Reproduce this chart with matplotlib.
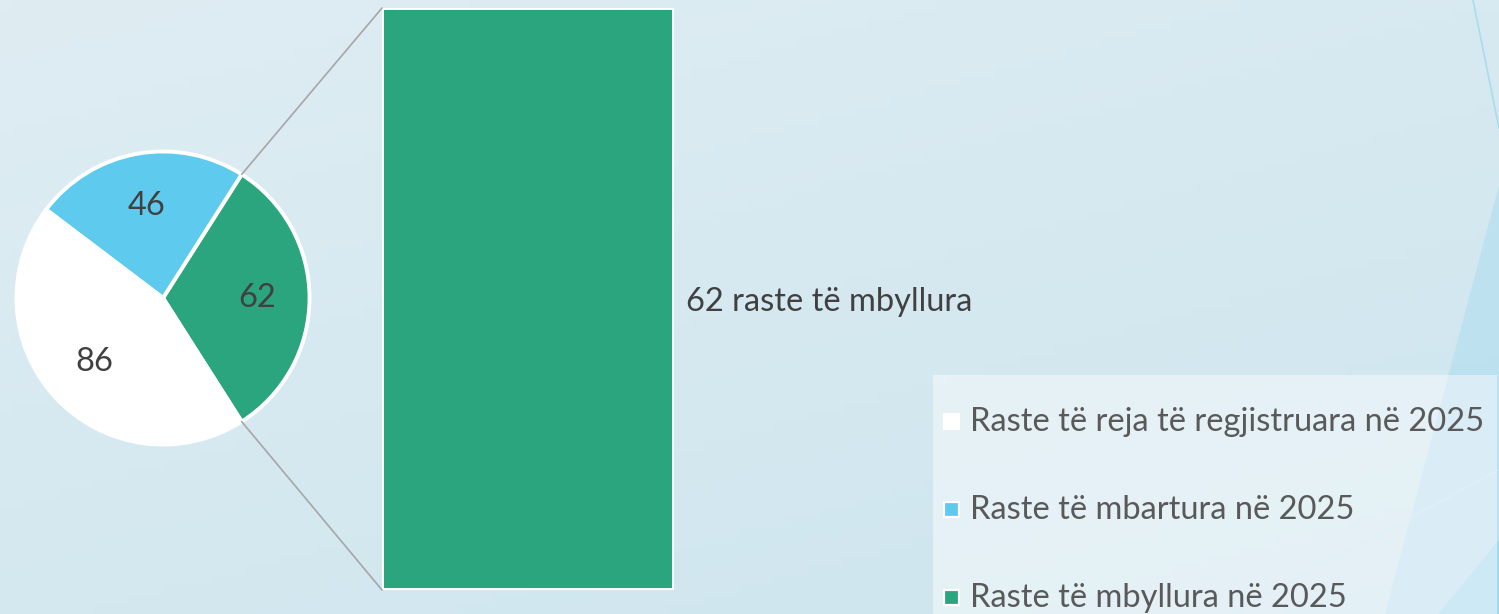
import matplotlib
matplotlib.use("Agg")
import matplotlib.pyplot as plt
import numpy as np
from matplotlib.patches import ConnectionPatch, Polygon, Rectangle

# ── Data ────────────────────────────────────────────────────────────────
labels = [
    "Raste të reja të regjistruara në 2025",
    "Raste të mbartura në 2025",
    "Raste të mbyllura në 2025",
]
values = [86, 46, 62]
colors = ["#FFFFFF", "#5ECBEE", "#2AA57D"]
bar_label = "raste të mbyllura"

FONT = "Lato"
FS = 23.5
TXT = "#404040"
LEG_TXT = "#595959"

W, H = 1499, 614
fig = plt.figure(figsize=(W / 100, H / 100), dpi=100)

# ── Background (pixel coordinates, y downwards) ─────────────────────────
bg = fig.add_axes([0, 0, 1, 1])
bg.set_xlim(0, W)
bg.set_ylim(H, 0)
bg.axis("off")
yy, xx = np.mgrid[0:1:64j, 0:1:128j]
t = 0.6 * yy + 0.4 * xx
c0 = np.array([223, 237, 243]) / 255
c1 = np.array([205, 229, 238]) / 255
grad = c0[None, None, :] * (1 - t[..., None]) + c1[None, None, :] * t[..., None]
bg.imshow(grad, extent=[0, W, H, 0], aspect="auto", zorder=0)

# decorative shapes on the right
bg.add_patch(Polygon([[1499, 185], [1499, 614], [1385, 614]], closed=True,
                     facecolor="#b3def0", alpha=0.65, edgecolor="none", zorder=1))
bg.add_patch(Polygon([[1499, 540], [1499, 614], [1438, 614]], closed=True,
                     facecolor="#8fd2ec", alpha=0.55, edgecolor="none", zorder=1))
bg.plot([1473, 1499], [0, 128], color="#a9dcef", lw=1.2, zorder=1)
bg.plot([1230, 1499], [614, 470], color="#c5e6f1", lw=1.0, zorder=1)

# ── Pie ─────────────────────────────────────────────────────────────────
total = sum(values)
order = [2, 1, 0]  # closed, carried, new — counter-clockwise from the right
pie_vals = [values[i] for i in order]
pie_cols = [colors[i] for i in order]
start = -180 * values[2] / total

pie_ax = fig.add_axes([15 / W, 1 - 446 / H, 296 / W, 296 / H])
wedges, _, autotexts = pie_ax.pie(
    pie_vals, colors=pie_cols, startangle=start, counterclock=True,
    autopct=lambda p: f"{round(p * total / 100)}", pctdistance=0.64,
    wedgeprops=dict(edgecolor="white", linewidth=2.8),
    textprops=dict(fontsize=FS, color=TXT, family=FONT),
)
pie_ax.set_xlim(-1.01, 1.01)
pie_ax.set_ylim(-1.01, 1.01)
pie_ax.set_aspect("equal")

# ── Bar ─────────────────────────────────────────────────────────────────
bar_ax = fig.add_axes([382 / W, 1 - 590 / H, 292 / W, 582 / H])
bar_ax.bar([0], [values[2]], width=1.0, color=colors[2],
           edgecolor="white", linewidth=2.8)
bar_ax.set_xlim(-0.5, 0.5)
bar_ax.set_ylim(0, values[2])
bar_ax.axis("off")
bar_ax.text(0.54, values[2] / 2 - 0.3, f"{values[2]} {bar_label}", ha="left",
            va="center", fontsize=FS, color=TXT, family=FONT, clip_on=False)

# connecting lines from the closed-cases wedge to the bar corners
theta1, theta2 = np.deg2rad(wedges[0].theta1), np.deg2rad(wedges[0].theta2)
r = wedges[0].r
for th, yb in [(theta2, values[2]), (theta1, 0)]:
    con = ConnectionPatch(xyA=(-0.5, yb), coordsA=bar_ax.transData,
                          xyB=(r * np.cos(th), r * np.sin(th)),
                          coordsB=pie_ax.transData,
                          color="#a6a6a6", linewidth=1.2)
    fig.add_artist(con)

# ── Legend (drawn by hand on the background axes) ───────────────────────
bg.add_patch(Rectangle((933, 375), 564, 260, facecolor="white", alpha=0.45,
                       edgecolor="none", zorder=2))
row_y = [422, 510, 598]
for c, lab, y in zip(colors, labels, row_y):
    bg.add_patch(Rectangle((944, y - 8), 15, 15, facecolor=c,
                           edgecolor="white", linewidth=1.6, zorder=3))
    bg.text(970, y, lab, ha="left", va="center", fontsize=FS,
            color=LEG_TXT, family=FONT, zorder=4)

fig.savefig("out.png", dpi=100)
